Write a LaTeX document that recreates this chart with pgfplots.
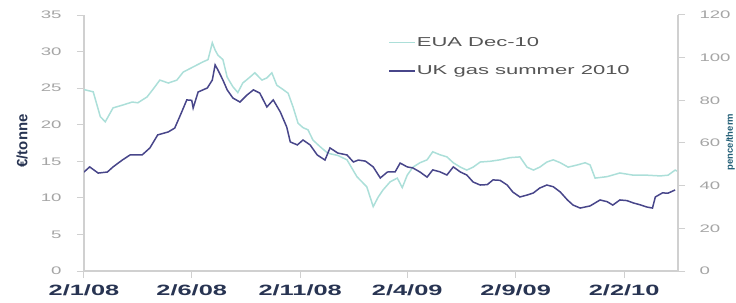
\documentclass[border=0pt]{standalone}
\usepackage{fontspec}
\setmainfont{Liberation Sans}[FakeStretch=1.7]
\newfontfamily\plainfont{Liberation Sans}
\usepackage{pgfplots}
\pgfplotsset{compat=1.18}
\usepackage{pgfplotstable}

\definecolor{euac}{RGB}{172,223,217}
\definecolor{gasc}{RGB}{72,70,138}
\definecolor{tickc}{RGB}{165,165,165}
\definecolor{axc}{RGB}{208,208,208}
\definecolor{xlab}{RGB}{40,52,82}
\definecolor{legtext}{RGB}{85,85,85}

\pgfplotstableread{
day val
0 24.8
13 24.5
23 21.1
30 20.4
41 22.3
55 22.7
68 23.1
76 23.0
89 23.8
97 24.8
107 26.1
119 25.7
131 26.1
140 27.2
154 27.9
168 28.6
175 28.9
181 31.2
185 30.2
189 29.5
196 28.9
202 26.5
210 25.2
217 24.4
224 25.7
234 26.5
241 27.1
251 26.1
258 26.4
265 27.1
272 25.4
281 24.8
288 24.3
295 22.4
302 20.2
309 19.6
316 19.3
323 17.9
333 17.0
344 16.1
358 15.8
371 15.2
385 12.9
399 11.5
408 8.8
415 10.1
422 11.1
432 12.2
442 12.7
449 11.4
456 13.1
464 14.2
474 14.8
484 15.2
492 16.3
502 15.9
512 15.6
521 14.8
531 14.2
540 13.8
549 14.2
559 14.9
573 15.0
587 15.2
601 15.5
615 15.6
625 14.2
634 13.8
643 14.2
653 14.9
662 15.2
672 14.8
683 14.2
696 14.5
707 14.8
714 14.5
721 12.7
738 12.9
756 13.4
775 13.1
794 13.1
813 13.0
824 13.1
834 13.8
838 13.6
}\euatable

\pgfplotstableread{
day val
0 46.4
8 48.8
20 45.9
33 46.4
41 48.8
54 52.0
65 54.4
82 54.4
93 57.7
104 63.8
119 65.2
128 67.0
136 73.1
145 80.2
152 80.0
154 76.4
161 83.9
174 85.8
181 89.5
185 96.6
189 94.2
196 89.5
202 84.9
210 81.1
220 79.2
230 82.5
239 84.9
248 83.4
258 76.9
267 80.2
277 74.5
286 67.5
291 60.5
301 59.1
309 61.4
319 59.1
329 54.4
340 52.0
347 57.7
358 55.3
371 54.4
380 51.1
387 52.0
397 51.5
408 48.8
418 43.6
428 46.4
439 46.5
446 50.6
456 48.8
464 48.3
474 46.4
484 44.0
492 47.4
502 46.5
512 45.0
521 48.8
531 46.4
540 45.0
549 41.7
559 40.3
569 40.5
577 42.7
587 42.5
597 40.3
605 37.0
615 34.7
625 35.6
634 36.6
643 38.9
653 40.3
662 39.5
672 37.0
682 33.3
690 30.9
700 29.5
714 30.5
728 33.3
738 32.5
746 30.9
756 33.3
766 33.0
775 31.9
785 31.0
794 30.0
802 29.5
806 34.7
816 36.6
824 36.5
834 38.0
}\gastable

\begin{document}
\begin{tikzpicture}
\pgfplotsset{
  common/.style={
    at={(0,0)}, anchor=south west,
    scale only axis, width=594bp, height=256bp,
    xmin=0, xmax=838,
    tick align=outside,
    major tick length=7bp,
    tick style={axc, line width=1bp},
    axis line style={axc, line width=1.2bp},
    /pgf/number format/assume math mode=true,
  }
}
\begin{axis}[common,
  ymin=0, ymax=35,
  axis y line*=left, axis x line*=bottom,
  xtick={0,152,305,456,609,762},
  xticklabels={2/1/08,2/6/08,2/11/08,2/4/09,2/9/09,2/2/10},
  xticklabel style={font=\fontsize{15}{18}\selectfont\bfseries, text=xlab, yshift=-3bp},
  ytick={0,5,...,35},
  yticklabel style={font=\fontsize{11}{13}\selectfont, text=tickc, xshift=-12bp},
]
\addplot[euac, line width=1.5bp] table[x=day, y=val] {\euatable};
\end{axis}
\begin{axis}[common,
  ymin=0, ymax=120,
  axis y line*=right, axis x line=none,
  ytick={0,20,...,120},
  yticklabel style={font=\fontsize{11}{13}\selectfont, text=tickc, xshift=11bp},
  legend style={at={(0.507,0.925)}, anchor=north west, draw=none, fill=none,
    font=\fontsize{13}{15}\selectfont, text=legtext, row sep=16bp,
    nodes={inner sep=1bp}},
  legend cell align=left,
  legend image code/.code={\draw[#1] (0bp,0bp) -- (26bp,0bp);},
]
\addlegendimage{euac, line width=1.5bp}
\addlegendentry{EUA Dec-10}
\addplot[gasc, line width=1.5bp] table[x=day, y=val] {\gastable};
\addlegendentry{UK gas summer 2010}
\end{axis}
\node[rotate=90, font=\plainfont\fontsize{15}{18}\selectfont\bfseries, text=xlab] at (-62bp,130bp) {€/tonne};
\node[rotate=90, anchor=south, inner sep=0pt, font=\plainfont\fontsize{9.5}{11}\selectfont\bfseries, text=xlab!80!cyan] at (651bp,129bp) {pence/therm};
\pgfresetboundingbox
\path[use as bounding box] (-84bp,-32bp) rectangle (652bp,271bp);
\end{tikzpicture}
\end{document}
